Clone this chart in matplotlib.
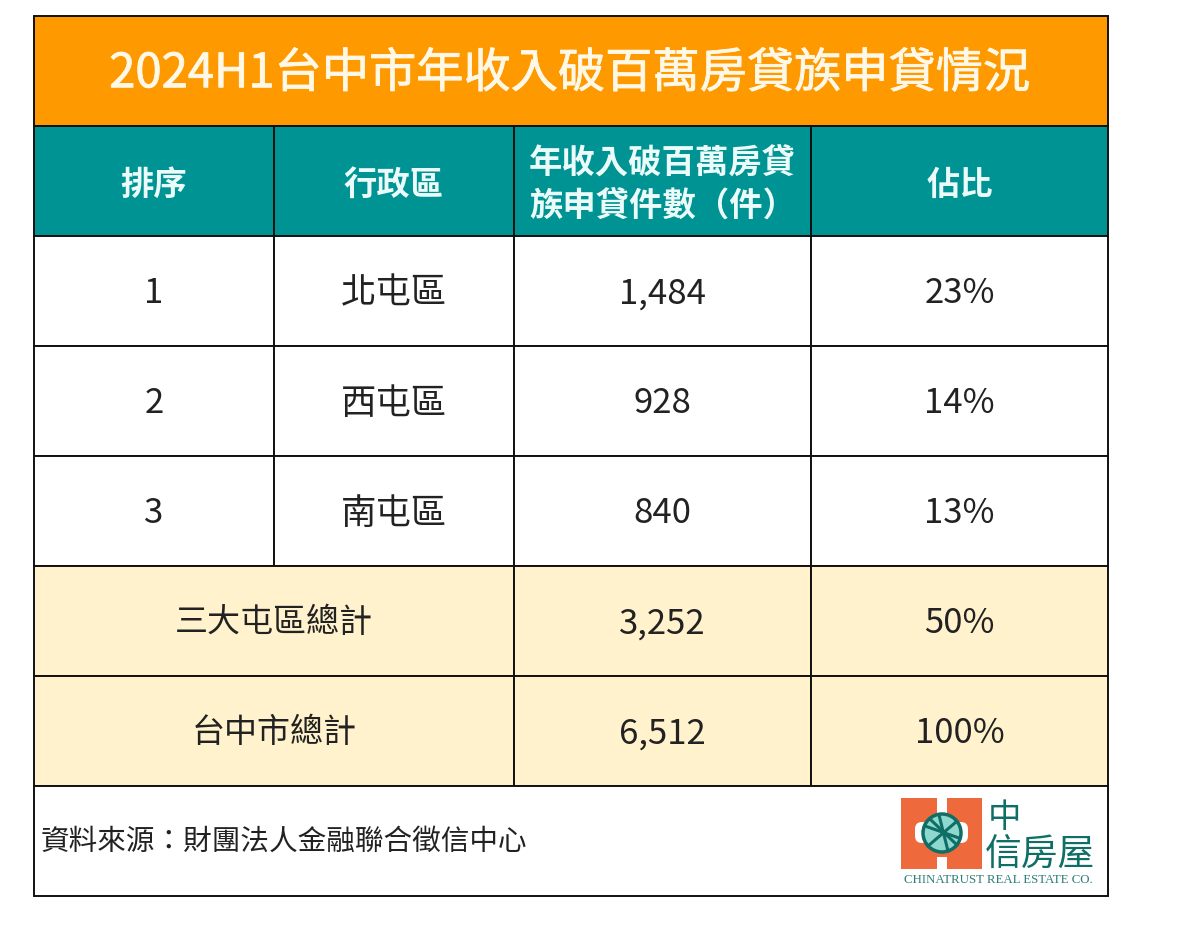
import matplotlib
matplotlib.use("Agg")
import matplotlib.pyplot as plt
import matplotlib.patheffects as pe
from matplotlib.patches import Rectangle, Circle, FancyBboxPatch

plt.rcParams['font.family'] = ['Noto Sans CJK TC', 'DejaVu Sans']

title = "2024H1台中市年收入破百萬房貸族申貸情況"
headers = ["排序", "行政區", "年收入破百萬房貸\n族申貸件數（件）", "佔比"]
ranks = ["1", "2", "3"]
districts = ["北屯區", "西屯區", "南屯區"]
counts = [1484, 928, 840]
shares = ["23%", "14%", "13%"]
total_labels = ["三大屯區總計", "台中市總計"]
total_counts = [3252, 6512]
total_shares = ["50%", "100%"]
source = "資料來源：財團法人金融聯合徵信中心"

ORANGE = "#FF9900"
TEAL = "#009393"
CREAM = "#FFF2CC"
INK = "#222222"
LINE = "#111111"

x_edges = [34, 274, 514, 811, 1108]
y_edges = [16.2, 126.2, 236.2, 346.2, 456.2, 566.2, 676.2, 786.2, 896.2]

fig = plt.figure(figsize=(12, 9.31), dpi=100)
ax = fig.add_axes([0, 0, 1, 1])
ax.set_xlim(0, 1200)
ax.set_ylim(931, 0)
ax.axis("off")


def cell(x0, x1, y0, y1, face="white"):
    ax.add_patch(Rectangle((x0, y0), x1 - x0, y1 - y0, facecolor=face,
                           edgecolor=LINE, linewidth=1.4, zorder=1))


def label(x, y, s, size=25, color=INK, weight="normal", ha="center", **kw):
    return ax.text(x, y, s, fontsize=size, color=color, fontweight=weight,
                   ha=ha, va="center", zorder=3, **kw)


# Title row
cell(x_edges[0], x_edges[4], y_edges[0], y_edges[1], ORANGE)
t = label((x_edges[0] + x_edges[4]) / 2 - 1, 74, title, size=34, color="#FFF8E6")
t.set_path_effects([pe.withStroke(linewidth=0.6, foreground="#FFF8E6")])

# Header row
for i, h in enumerate(headers):
    cell(x_edges[i], x_edges[i + 1], y_edges[1], y_edges[2], TEAL)
    label((x_edges[i] + x_edges[i + 1]) / 2, 185.5, h, size=24, color="#EAFBFA",
          weight="bold", linespacing=1.36)

# Ranked rows
for r in range(len(ranks)):
    y0, y1 = y_edges[2 + r], y_edges[3 + r]
    row = [ranks[r], districts[r], f"{counts[r]:,}", shares[r]]
    sizes = [25, 25.5, 25, 25]
    for i, v in enumerate(row):
        cell(x_edges[i], x_edges[i + 1], y0, y1)
        label((x_edges[i] + x_edges[i + 1]) / 2, (y0 + y1) / 2 + 2.5, v, size=sizes[i])

# Total rows
for r in range(len(total_labels)):
    y0, y1 = y_edges[5 + r], y_edges[6 + r]
    cell(x_edges[0], x_edges[2], y0, y1, CREAM)
    cell(x_edges[2], x_edges[3], y0, y1, CREAM)
    cell(x_edges[3], x_edges[4], y0, y1, CREAM)
    label((x_edges[0] + x_edges[2]) / 2, (y0 + y1) / 2 + 1, total_labels[r], size=23.8)
    label((x_edges[2] + x_edges[3]) / 2, (y0 + y1) / 2 + 2.5, f"{total_counts[r]:,}")
    label((x_edges[3] + x_edges[4]) / 2, (y0 + y1) / 2 + 2.5, total_shares[r])

# Footer
cell(x_edges[0], x_edges[4], y_edges[7], y_edges[8])
label(41, 842, source, size=20.6, ha="left")

# Logo
LOGO_RED = "#EE6A3C"
LOGO_TEAL = "#0F6E66"
ax.add_patch(Rectangle((901, 798), 81, 71, facecolor=LOGO_RED, edgecolor="none", zorder=2))
ax.add_patch(FancyBboxPatch((915, 822), 53, 21, boxstyle="round,pad=0,rounding_size=7",
                            facecolor="white", edgecolor="none", zorder=2.1))
ax.add_patch(Rectangle((937, 798), 10, 19, facecolor="white", edgecolor="none", zorder=2.1))
ax.add_patch(Rectangle((937, 857), 10, 12, facecolor="white", edgecolor="none", zorder=2.1))
ax.add_patch(Circle((942, 833), 19, facecolor="#8FD8CF", edgecolor=LOGO_TEAL, linewidth=2.5, zorder=2.2))
ax.plot([925, 959], [826, 838], color=LOGO_TEAL, lw=2.2, zorder=2.3)
ax.plot([928, 956], [846, 822], color=LOGO_TEAL, lw=2.2, zorder=2.3)
ax.plot([939, 948], [815, 851], color=LOGO_TEAL, lw=2.2, zorder=2.3)
ax.plot([931, 957], [820, 845], color=LOGO_TEAL, lw=2.2, zorder=2.3)
ax.text(1004, 817, "中", fontsize=24, color=LOGO_TEAL, ha="center", va="center", zorder=3)
ax.text(1040, 854, "信房屋", fontsize=26.5, color=LOGO_TEAL, ha="center", va="center", zorder=3)
ax.text(998, 880, "CHINATRUST REAL ESTATE CO.", fontsize=9.3, color="#2F7F78",
        ha="center", va="center", zorder=3, family=["Liberation Serif"])

fig.savefig("out.png", dpi=100, facecolor="white")
